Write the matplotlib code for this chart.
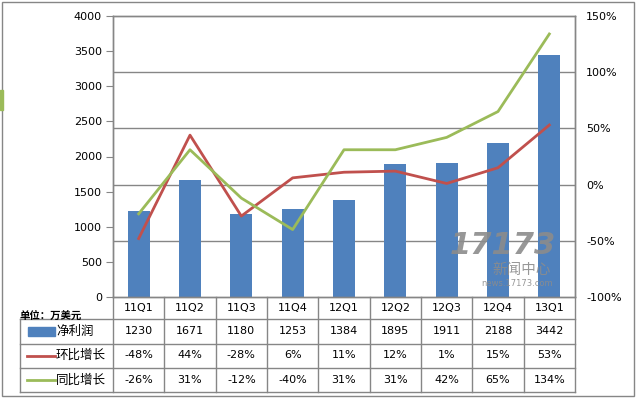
import matplotlib
matplotlib.use("Agg")
from matplotlib import pyplot as plt
from matplotlib.transforms import blended_transform_factory
from matplotlib.patches import Rectangle
from matplotlib.lines import Line2D
import numpy as np

plt.rcParams["font.family"] = ["DejaVu Sans", "Noto Sans CJK SC"]

quarters = ["11Q1", "11Q2", "11Q3", "11Q4", "12Q1", "12Q2", "12Q3", "12Q4", "13Q1"]
net_profit = [1230, 1671, 1180, 1253, 1384, 1895, 1911, 2188, 3442]
qoq_growth = [-48, 44, -28, 6, 11, 12, 1, 15, 53]
yoy_growth = [-26, 31, -12, -40, 31, 31, 42, 65, 134]

blue = "#4F81BD"
red = "#C0504D"
green = "#9BBB59"
grey = "#868686"

W, H = 637, 399
fig = plt.figure(figsize=(W / 100, H / 100), dpi=100)


def fy(py):
    # pixel row -> figure fraction
    return 1 - py / H


def fx(px):
    return px / W


left, right, top, bottom = 113, 575, 16, 297
ax = fig.add_axes([fx(left), fy(bottom), fx(right - left), fy(top) - fy(bottom)])
ax2 = ax.twinx()

x = np.arange(len(quarters))
ax.bar(x, net_profit, width=0.43, color=blue, zorder=2)
ax.set_xlim(-0.5, len(quarters) - 0.5)
ax.set_ylim(0, 4000)
ax.set_yticks(range(0, 4001, 500))
ax.set_xticks([])
ax.tick_params(axis="y", direction="out", length=5, color=grey, labelsize=8, pad=3)

ax2.plot(x, qoq_growth, color=red, lw=2.0, zorder=3)
ax2.plot(x, yoy_growth, color=green, lw=2.0, zorder=3)
ax2.set_ylim(-100, 150)
pct_ticks = list(range(-100, 151, 50))
ax2.set_yticks(pct_ticks)
ax2.set_yticklabels([f"{v}%" for v in pct_ticks])
ax2.tick_params(axis="y", length=0, labelsize=8, pad=8)

# gridlines follow the right axis ticks but sit behind the bars
grid_pos = [(v + 100) / 250 * 4000 for v in pct_ticks]
ax.set_yticks(grid_pos, minor=True)
ax.tick_params(axis="y", which="minor", length=0)
ax.grid(axis="y", which="minor", color=grey, lw=1.0, zorder=0)
ax.set_axisbelow(True)

for a in (ax, ax2):
    for s in a.spines.values():
        s.set_color(grey)
        s.set_linewidth(1.0)

# data table below the plot
tr = blended_transform_factory(ax.transData, fig.transFigure)
row_y = [331, 355.5, 380]
line_y = [319, 343.5, 368, 392]

fig.text(fx(20), fy(316), "单位：万美元", fontsize=7.5, fontweight="bold",
         va="center", ha="left", family=["Noto Sans CJK SC"])

for i, q in enumerate(quarters):
    ax.text(i, fy(308), q, transform=tr, ha="center", va="center", fontsize=8)
    ax.text(i, fy(row_y[0]), str(net_profit[i]), transform=tr, ha="center", va="center", fontsize=8)
    ax.text(i, fy(row_y[1]), f"{qoq_growth[i]}%", transform=tr, ha="center", va="center", fontsize=8)
    ax.text(i, fy(row_y[2]), f"{yoy_growth[i]}%", transform=tr, ha="center", va="center", fontsize=8)

for k in range(len(quarters) + 1):
    xb = k - 0.5
    fig.add_artist(Line2D([xb, xb], [fy(bottom), fy(line_y[-1])], transform=tr, color=grey, lw=1.0))

for yy in line_y:
    fig.add_artist(Line2D([fx(20), fx(right)], [fy(yy), fy(yy)], color=grey, lw=1.0))
fig.add_artist(Line2D([fx(20), fx(20)], [fy(line_y[0]), fy(line_y[-1])], color=grey, lw=1.0))

# legend keys in the table
fig.add_artist(Rectangle((fx(28), fy(336)), fx(27), fy(327) - fy(336), color=blue))
fig.add_artist(Line2D([fx(27), fx(55)], [fy(355.5), fy(355.5)], color=red, lw=2.0))
fig.add_artist(Line2D([fx(27), fx(55)], [fy(380), fy(380)], color=green, lw=2.0))
cjk = ["Noto Sans CJK SC"]
fig.text(fx(56), fy(row_y[0]), "净利润", fontsize=9, va="center", family=cjk)
fig.text(fx(56), fy(row_y[1]), "环比增长", fontsize=9, va="center", family=cjk)
fig.text(fx(56), fy(row_y[2]), "同比增长", fontsize=9, va="center", family=cjk)

# watermark
fig.text(fx(503), fy(246), "17173", fontsize=22, fontweight="bold", color="#8c8c8c",
         ha="center", va="center", alpha=0.9, style="italic")
fig.text(fx(522), fy(270), "新闻中心", fontsize=10.5, color="#8c8c8c", ha="center",
         va="center", family=cjk, alpha=0.9)
fig.text(fx(517), fy(284), "news.17173.com", fontsize=6, color="#8c8c8c", ha="center",
         va="center", alpha=0.9)

# outer frame and the small mark at the left edge
fig.add_artist(Rectangle((fx(2), fy(396)), fx(632), fy(2) - fy(396), fill=False,
                         edgecolor=grey, lw=1.0))
fig.add_artist(Rectangle((0, fy(110)), fx(3), fy(90) - fy(110), color=green))

plt.savefig("out.png", dpi=100)
